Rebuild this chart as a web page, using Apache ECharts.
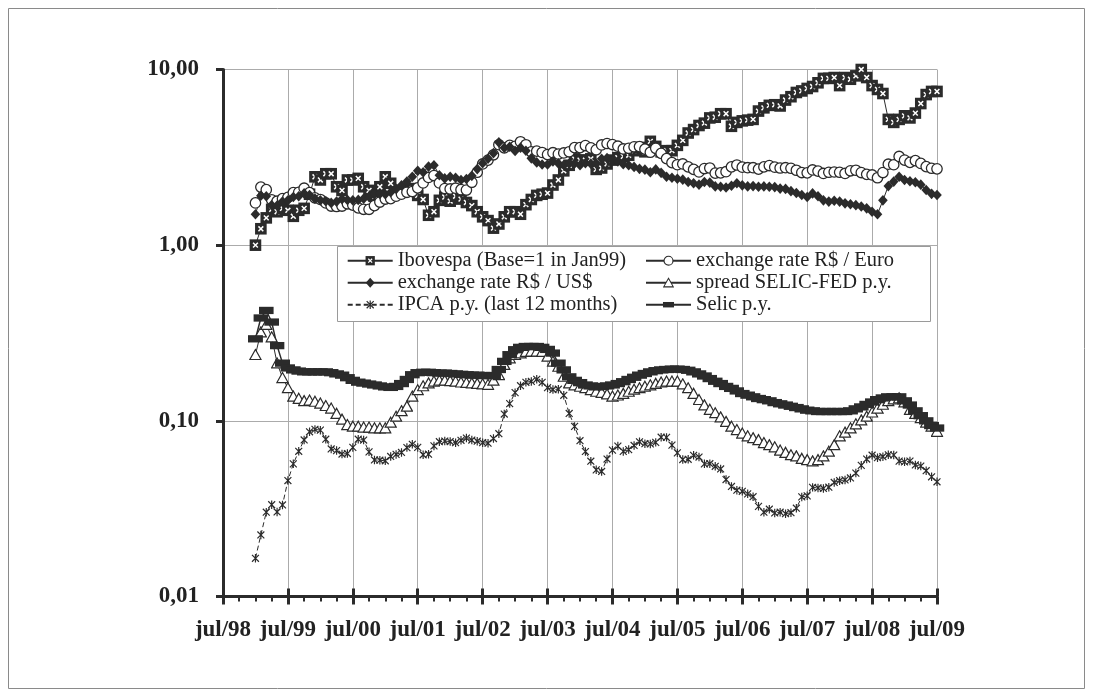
<!DOCTYPE html>
<html><head><meta charset="utf-8">
<script src="https://cdn.jsdelivr.net/npm/echarts@6/dist/echarts.min.js"></script>
<style>html,body{margin:0;padding:0;background:#fff}#c{width:1093px;height:697px}</style>
</head><body><div id="c"></div><script>
// ---- data (monthly, Jan99 .. Jul09) ----
const tickLabels = ['jul/98','jul/99','jul/00','jul/01','jul/02','jul/03','jul/04','jul/05','jul/06','jul/07','jul/08','jul/09'];
const yTickLabels = {'-2':'0,01','-1':'0,10','0':'1,00','1':'10,00'};
const monthNames = ['jan','fev','mar','abr','mai','jun','jul','ago','set','out','nov','dez'];

const ibovespa = [
 1.00,1.24,1.43,1.60,1.55,1.62,1.58,1.46,1.58,1.62,1.95,2.45,
 2.35,2.55,2.55,2.15,2.05,2.35,2.35,2.40,2.15,2.05,1.90,2.15,
 2.45,2.25,2.00,2.05,2.05,2.10,1.92,1.82,1.48,1.55,1.80,1.88,
 1.78,1.90,1.83,1.75,1.68,1.55,1.45,1.38,1.25,1.32,1.45,1.55,
 1.55,1.50,1.70,1.82,1.92,1.95,1.98,2.20,2.35,2.65,2.85,3.10,
 3.05,3.05,3.10,2.70,2.75,2.90,3.05,3.15,3.20,3.25,3.45,3.60,
 3.40,3.90,3.65,3.40,3.45,3.45,3.70,3.95,4.35,4.55,4.80,4.95,
 5.30,5.35,5.60,5.60,4.75,5.00,5.10,5.15,5.20,5.80,6.05,6.25,
 6.30,6.20,6.70,7.00,7.40,7.55,7.80,8.00,8.40,8.90,8.90,9.00,
 8.10,9.00,8.80,9.20,10.00,9.00,8.10,7.70,7.30,5.20,5.00,5.20,
 5.45,5.30,5.65,6.40,7.20,7.50,7.50];
const euro = [
 1.74,2.14,2.07,1.81,1.78,1.84,1.87,1.99,2.00,2.11,1.99,1.86,
 1.82,1.74,1.67,1.66,1.67,1.72,1.69,1.63,1.60,1.60,1.68,1.76,
 1.83,1.84,1.90,1.95,2.00,2.02,2.12,2.26,2.43,2.49,2.26,2.10,
 2.09,2.11,2.07,2.06,2.28,2.60,2.90,3.05,3.27,3.73,3.58,3.70,
 3.65,3.88,3.73,3.40,3.43,3.37,3.28,3.36,3.30,3.35,3.40,3.59,
 3.59,3.69,3.58,3.49,3.72,3.79,3.74,3.66,3.53,3.56,3.63,3.64,
 3.52,3.38,3.56,3.33,3.11,2.95,2.87,2.90,2.79,2.70,2.61,2.73,
 2.75,2.57,2.58,2.62,2.79,2.86,2.78,2.76,2.76,2.71,2.79,2.84,
 2.78,2.75,2.76,2.74,2.67,2.59,2.58,2.68,2.64,2.56,2.60,2.61,
 2.60,2.56,2.65,2.67,2.59,2.53,2.51,2.42,2.59,2.89,2.87,3.20,
 3.05,2.96,3.03,2.92,2.80,2.74,2.72];
const usd = [
 1.50,1.91,1.90,1.69,1.68,1.77,1.80,1.88,1.90,1.97,1.93,1.84,
 1.80,1.78,1.74,1.77,1.83,1.81,1.80,1.81,1.84,1.88,1.95,1.96,
 1.95,2.00,2.09,2.19,2.30,2.45,2.65,2.60,2.80,2.85,2.50,2.40,
 2.45,2.42,2.35,2.38,2.48,2.71,2.93,3.11,3.34,3.85,3.58,3.63,
 3.44,3.59,3.45,3.12,2.96,2.88,2.88,3.00,2.92,2.86,2.91,2.92,
 2.85,2.93,2.91,2.91,3.10,3.13,3.04,3.00,2.89,2.85,2.79,2.72,
 2.69,2.60,2.70,2.58,2.45,2.42,2.39,2.36,2.29,2.25,2.21,2.29,
 2.27,2.16,2.15,2.13,2.18,2.25,2.19,2.16,2.17,2.15,2.16,2.15,
 2.14,2.10,2.09,2.03,1.98,1.93,1.88,1.97,1.90,1.80,1.77,1.79,
 1.77,1.73,1.71,1.69,1.66,1.62,1.55,1.50,1.80,2.17,2.30,2.45,
 2.35,2.31,2.28,2.21,2.06,1.96,1.93];
const spread = [
 0.238,0.320,0.353,0.300,0.213,0.176,0.154,0.138,0.134,0.130,0.131,0.129,
 0.126,0.122,0.118,0.110,0.102,0.095,0.093,0.093,0.092,0.092,0.091,0.091,
 0.091,0.098,0.106,0.114,0.121,0.138,0.150,0.158,0.164,0.168,0.170,0.170,
 0.169,0.168,0.166,0.165,0.164,0.163,0.162,0.161,0.170,0.183,0.209,0.228,
 0.238,0.243,0.248,0.249,0.249,0.248,0.233,0.218,0.204,0.179,0.164,0.160,
 0.157,0.154,0.150,0.147,0.145,0.142,0.138,0.140,0.143,0.147,0.151,0.154,
 0.157,0.160,0.163,0.166,0.168,0.168,0.168,0.162,0.154,0.143,0.132,0.123,
 0.116,0.111,0.105,0.099,0.093,0.089,0.085,0.082,0.080,0.078,0.075,0.073,
 0.071,0.068,0.066,0.064,0.063,0.061,0.060,0.059,0.060,0.063,0.067,0.073,
 0.082,0.086,0.091,0.096,0.101,0.106,0.112,0.118,0.124,0.130,0.133,0.135,
 0.128,0.116,0.110,0.104,0.098,0.093,0.087];
const ipca = [
 0.0165,0.0224,0.0302,0.0333,0.0303,0.0332,0.0457,0.0569,0.0671,0.0778,0.0866,0.0894,
 0.0885,0.0786,0.0692,0.0677,0.0647,0.0651,0.0706,0.0786,0.0777,0.0666,0.0599,0.0597,
 0.0592,0.0627,0.0644,0.0661,0.0704,0.0735,0.0706,0.0641,0.0646,0.0720,0.0761,0.0767,
 0.0762,0.0751,0.0775,0.0798,0.0777,0.0766,0.0751,0.0746,0.0793,0.0845,0.1093,0.1253,
 0.1447,0.1585,0.1657,0.1677,0.1724,0.1657,0.1543,0.1507,0.1514,0.1398,0.1102,0.0930,
 0.0771,0.0669,0.0589,0.0526,0.0515,0.0606,0.0681,0.0718,0.0670,0.0686,0.0724,0.0760,
 0.0741,0.0739,0.0754,0.0807,0.0805,0.0727,0.0657,0.0602,0.0604,0.0636,0.0622,0.0569,
 0.0570,0.0551,0.0532,0.0463,0.0423,0.0403,0.0397,0.0384,0.0370,0.0326,0.0302,0.0314,
 0.0299,0.0302,0.0296,0.0300,0.0318,0.0369,0.0374,0.0418,0.0415,0.0412,0.0419,0.0446,
 0.0456,0.0461,0.0473,0.0504,0.0558,0.0606,0.0637,0.0617,0.0625,0.0641,0.0639,0.0590,
 0.0584,0.0590,0.0561,0.0553,0.0520,0.0480,0.0450];
const selic = [
 0.293,0.385,0.425,0.365,0.268,0.213,0.200,0.195,0.192,0.190,0.190,0.190,
 0.190,0.190,0.188,0.185,0.182,0.176,0.170,0.166,0.164,0.162,0.160,0.158,
 0.156,0.155,0.157,0.163,0.172,0.183,0.188,0.189,0.189,0.188,0.187,0.187,
 0.186,0.185,0.184,0.183,0.182,0.182,0.181,0.181,0.181,0.196,0.218,0.238,
 0.254,0.262,0.265,0.265,0.265,0.262,0.255,0.243,0.213,0.195,0.178,0.170,
 0.165,0.160,0.158,0.156,0.157,0.158,0.160,0.163,0.167,0.172,0.177,0.182,
 0.186,0.190,0.193,0.195,0.196,0.197,0.197,0.196,0.194,0.190,0.185,0.180,
 0.174,0.168,0.163,0.157,0.153,0.148,0.143,0.140,0.137,0.134,0.132,0.130,
 0.127,0.125,0.123,0.121,0.119,0.117,0.115,0.114,0.113,0.113,0.113,0.113,
 0.113,0.113,0.114,0.117,0.120,0.124,0.128,0.132,0.135,0.137,0.137,0.137,
 0.130,0.123,0.114,0.107,0.100,0.094,0.091];

// ---- categories: monthly Jul98 .. Jul09 ----
const categories = [];
for (let y = 1998, m = 6; !(y === 2009 && m === 7); ) {
  categories.push(monthNames[m] + '/' + String(y).slice(2));
  m++; if (m === 12) { m = 0; y++; }
}
const lead = [null,null,null,null,null,null]; // Jul98..Dec98 without data

const DARK = '#2b2b2b';
const FONT = 'Liberation Serif';
function sym(inner) {
  return 'image://data:image/svg+xml;charset=utf-8,' + encodeURIComponent(
    '<svg xmlns="http://www.w3.org/2000/svg" width="42" height="42" viewBox="0 0 14 14">' + inner + '</svg>');
}
const symIbov = sym('<rect x="1.2" y="1.2" width="11.6" height="11.6" fill="' + DARK + '"/><path d="M4.6 4.6L9.4 9.4M9.4 4.6L4.6 9.4" stroke="#fff" stroke-width="1.5"/>');
const symUsd = sym('<path d="M7 0.8L12.6 7L7 13.2L1.4 7Z" fill="' + DARK + '"/>');
const symEuro = sym('<circle cx="7" cy="7" r="5.6" fill="#fff" stroke="' + DARK + '" stroke-width="1.4"/>');
const symSpread = sym('<path d="M7 1.4L13 12.2L1 12.2Z" fill="#fff" stroke="' + DARK + '" stroke-width="1.3"/>');
const symIpca = sym('<path d="M2.6 2.6L11.4 11.4M11.4 2.6L2.6 11.4M7 1.6L7 12.4" stroke="' + DARK + '" stroke-width="1.5"/>');
const symSelic = sym('<rect x="0" y="3.6" width="14" height="6.8" fill="' + DARK + '"/>');

const names = {
  ibov: 'Ibovespa (Base=1 in Jan99)',
  euro: 'exchange rate R$ / Euro',
  usd: 'exchange rate R$ / US$',
  spread: 'spread SELIC-FED p.y.',
  ipca: 'IPCA p.y. (last 12 months)',
  selic: 'Selic p.y.'
};

function lineSeries(name, values, symbol, size, lineType, lw) {
  return {
    name: name, type: 'line', xAxisIndex: 0, yAxisIndex: 0,
    data: lead.concat(values),
    symbol: symbol, symbolSize: size, showAllSymbol: true, showSymbol: true,
    color: DARK,
    lineStyle: { color: DARK, width: lw || 1, type: lineType || 'solid' },
    itemStyle: { color: DARK },
    emphasis: { disabled: true }
  };
}

const gridRect = { left: 223, top: 69.5, right: 156, bottom: 100.5 };
const legendText = { fontFamily: FONT, fontSize: 20.5, color: '#222', lineHeight: 22 };

const option = {
  animation: false,
  backgroundColor: '#fff',
  grid: [Object.assign({}, gridRect), Object.assign({}, gridRect), Object.assign({}, gridRect)],
  xAxis: [
    {
      type: 'category', gridIndex: 0, data: categories, boundaryGap: false,
      axisLine: { onZero: false, lineStyle: { color: DARK, width: 3 } },
      axisTick: { interval: (i) => i % 12 === 0, length: 8, lineStyle: { color: DARK, width: 3 } },
      axisLabel: {
        interval: (i) => i % 12 === 0, margin: 22,
        formatter: (v, i) => tickLabels[Math.round(i / 12)],
        fontFamily: FONT, fontWeight: 'bold', fontSize: 23, color: '#222'
      },
      splitLine: { show: true, interval: (i) => i % 12 === 0, lineStyle: { color: '#ababab', width: 1 } }
    },
    {
      type: 'category', gridIndex: 1, data: categories, boundaryGap: false,
      axisLine: { show: false, onZero: false },
      axisTick: { interval: (i) => i % 3 === 0, length: 5, lineStyle: { color: DARK, width: 2 } },
      axisLabel: { show: false }, splitLine: { show: false }
    },
    {
      type: 'category', gridIndex: 2, data: categories, boundaryGap: false,
      axisLine: { show: false, onZero: false },
      axisTick: { inside: true, interval: (i) => i % 12 === 0, length: 8, lineStyle: { color: DARK, width: 3 } },
      axisLabel: { show: false }, splitLine: { show: false }
    }
  ],
  yAxis: [
    {
      type: 'log', gridIndex: 0, logBase: 10, min: 0.01, max: 10,
      axisLine: { show: true, onZero: false, lineStyle: { color: DARK, width: 3 } },
      axisTick: { show: true, length: 7, lineStyle: { color: DARK, width: 3 } },
      axisLabel: {
        margin: 24, fontFamily: FONT, fontWeight: 'bold', fontSize: 23, color: '#222',
        formatter: (v) => yTickLabels[String(Math.round(Math.log10(v)))]
      },
      splitLine: { show: true, lineStyle: { color: '#ababab', width: 1 } },
      minorTick: { show: false }
    },
    { type: 'value', gridIndex: 1, show: false },
    { type: 'value', gridIndex: 2, show: false }
  ],
  legend: [
    {
      orient: 'vertical', left: 346.7, top: 249.7, padding: 0, itemGap: 0,
      itemWidth: 45, itemHeight: 14, textStyle: legendText, selectedMode: false, z: 6,
      data: [names.ibov, names.usd, names.ipca]
    },
    {
      orient: 'vertical', left: 645, top: 249.7, padding: 0, itemGap: 0,
      itemWidth: 45, itemHeight: 14, textStyle: legendText, selectedMode: false, z: 6,
      data: [names.euro, names.spread, names.selic]
    }
  ],
  graphic: [
    { type: 'rect', z: 5, shape: { x: 337.5, y: 246.5, width: 593, height: 75 },
      style: { fill: '#fff', stroke: '#9a9a9a', lineWidth: 1 } },
    { type: 'rect', z: 0, silent: true, shape: { x: 8.5, y: 8.5, width: 1076, height: 680 },
      style: { fill: 'none', stroke: '#8a8a8a', lineWidth: 1 } }
  ],
  series: [
    lineSeries(names.ibov, ibovespa, symIbov, 14),
    lineSeries(names.euro, euro, symEuro, 13),
    lineSeries(names.usd, usd, symUsd, 12),
    lineSeries(names.spread, spread, symSpread, 13),
    lineSeries(names.ipca, ipca, symIpca, 11, [5, 3]),
    lineSeries(names.selic, selic, symSelic, 15, 'solid', 1.5)
  ]
};

const chart = echarts.init(document.getElementById('c'), null, { renderer: 'canvas' });
chart.setOption(option);
</script></body></html>
